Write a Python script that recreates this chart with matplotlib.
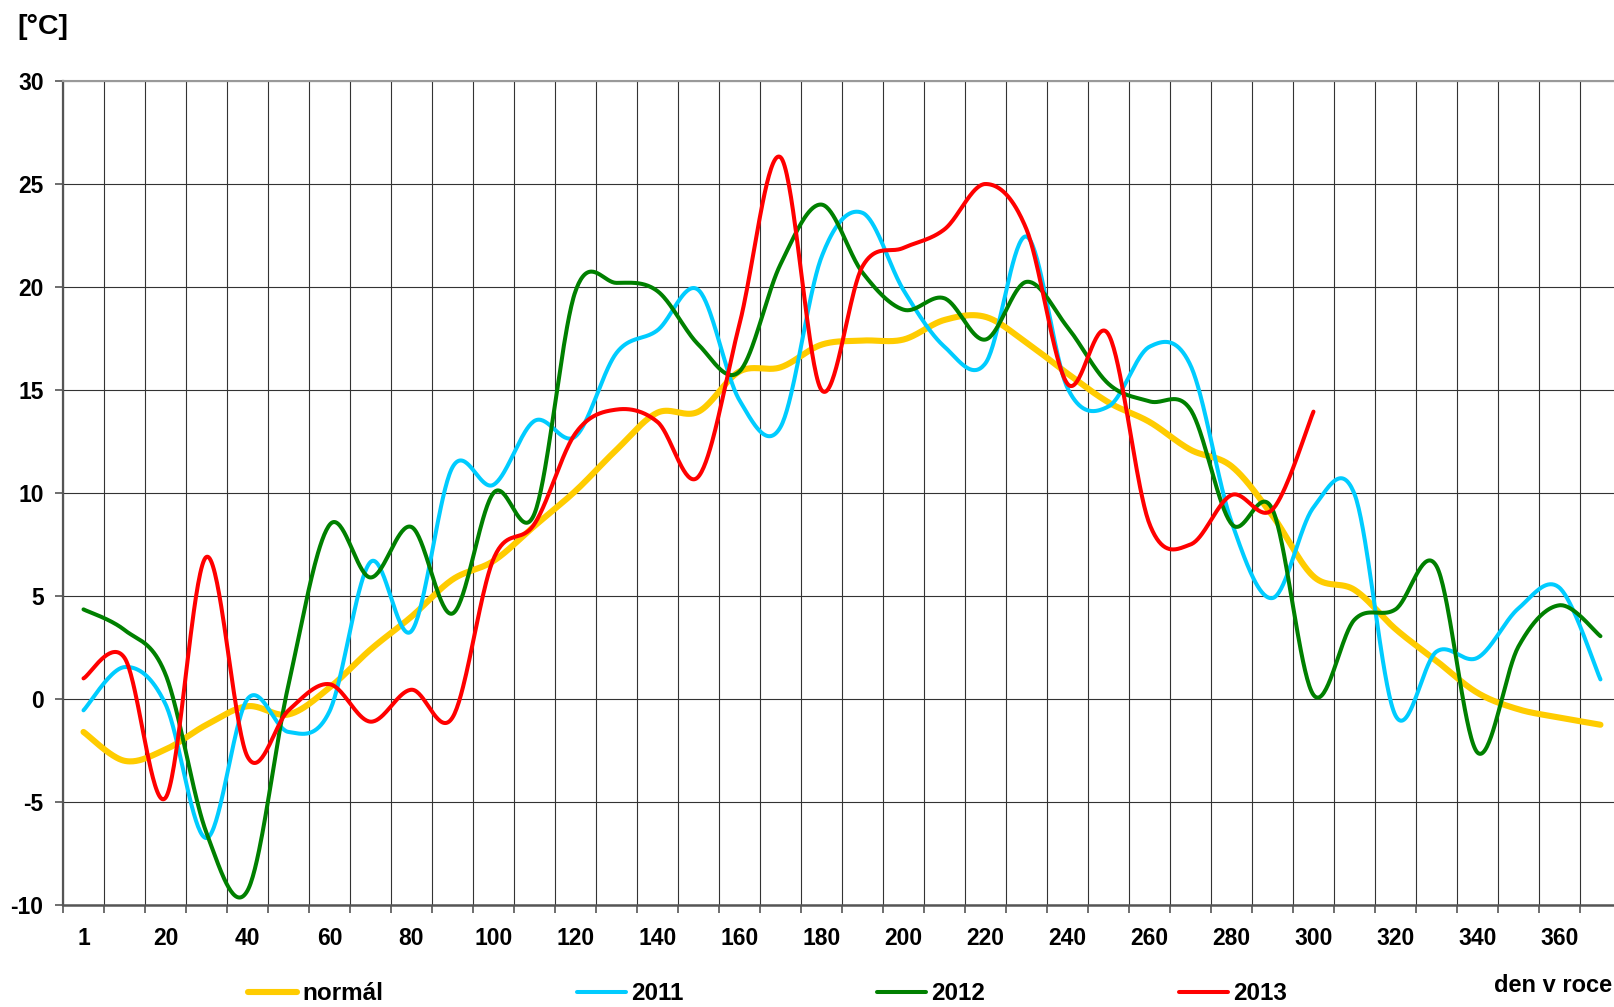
import numpy as np
import matplotlib
matplotlib.use("Agg")
import matplotlib.pyplot as plt

plt.rcParams['font.family'] = ['Liberation Sans', 'DejaVu Sans']
plt.rcParams['font.weight'] = 'bold'
plt.rcParams['axes.unicode_minus'] = False

# ---- data (one value per 10-day step, first label "1") ----
steps = np.arange(0, 380, 10)          # category positions
tick_pos = np.arange(0, 361, 20)
tick_labels = ['1'] + [str(v) for v in range(20, 361, 20)]
y_ticks = [-10, -5, 0, 5, 10, 15, 20, 25, 30]

normal = [-1.6, -3.0, -2.45, -1.25, -0.35, -0.75, 0.55, 2.4, 4.0, 5.8,
          6.7, 8.4, 10.1, 12.1, 13.9, 13.95, 15.9, 16.1, 17.2, 17.4,
          17.45, 18.4, 18.55, 17.3, 15.8, 14.4, 13.45, 12.1, 11.3, 8.9,
          5.95, 5.3, 3.4, 1.85, 0.3, -0.5, -0.9, -1.25]
y2011 = [-0.55, 1.55, -0.25, -6.75, 0.0, -1.6, -0.6, 6.65, 3.3, 11.25,
         10.4, 13.5, 12.75, 16.8, 17.9, 19.85, 14.5, 13.2, 21.45, 23.6,
         19.85, 17.1, 16.3, 22.45, 15.1, 14.2, 17.1, 16.2, 8.6, 4.9,
         9.3, 9.95, -0.8, 2.3, 2.0, 4.4, 5.4, 0.95]
y2012 = [4.35, 3.35, 1.2, -6.5, -9.3, 0.7, 8.45, 5.9, 8.35, 4.15,
         10.0, 9.0, 19.8, 20.2, 19.8, 17.2, 15.9, 21.1, 24.0, 20.7,
         18.9, 19.45, 17.45, 20.25, 18.05, 15.3, 14.45, 14.05, 8.5, 9.2,
         0.2, 3.85, 4.35, 6.45, -2.6, 2.55, 4.55, 3.05]
y2013 = [1.0, 2.0, -4.8, 6.9, -2.8, -0.55, 0.72, -1.1, 0.45, -0.9,
         6.8, 8.5, 12.9, 14.05, 13.45, 10.8, 18.2, 26.3, 15.0, 21.0,
         21.9, 22.8, 25.0, 22.8, 15.3, 17.7, 8.5, 7.5, 9.9, 9.2,
         13.95]


def smooth(x, y, n=40):
    """Excel-like smoothed line (Catmull-Rom Bezier)."""
    p = np.column_stack([x, y]).astype(float)
    pp = np.vstack([p[0], p, p[-1]])
    t = np.linspace(0, 1, n)[:, None]
    out = []
    for i in range(len(p) - 1):
        P0, P1, P2, P3 = pp[i], pp[i + 1], pp[i + 2], pp[i + 3]
        C1 = P1 + (P2 - P0) / 6.0
        C2 = P2 - (P3 - P1) / 6.0
        seg = ((1 - t) ** 3) * P1 + 3 * ((1 - t) ** 2) * t * C1 + \
            3 * (1 - t) * t ** 2 * C2 + t ** 3 * P2
        out.append(seg if i == 0 else seg[1:])
    s = np.vstack(out)
    return s[:, 0], s[:, 1]


fig = plt.figure(figsize=(16.14, 10.07), dpi=100)
ax = fig.add_axes([63 / 1614, 1 - 905 / 1007, 1 - 63 / 1614, (905 - 81) / 1007])

series = [
    (normal, '#FFCC00', 4.4, 'normál'),
    (y2011, '#00CCFF', 2.9, '2011'),
    (y2012, '#008000', 2.9, '2012'),
    (y2013, '#FF0000', 2.9, '2013'),
]
handles = []
for vals, col, lw, lab in series:
    xs, ys = smooth(steps[:len(vals)], vals)
    h, = ax.plot(xs, ys, color=col, lw=lw, label=lab,
                 solid_capstyle='round', solid_joinstyle='round')
    handles.append(h)

ax.set_xlim(-5, 373.3)
ax.set_ylim(-10, 30)

# grid
ax.set_xticks(np.arange(-5, 370, 10))
ax.set_xticklabels([])
ax.set_xticks(tick_pos, minor=True)
ax.set_xticklabels(tick_labels, minor=True)
ax.tick_params(axis='x', which='major', length=6, width=1.2, color='#555555', direction='out')
ax.tick_params(axis='x', which='minor', length=0, pad=16, labelsize=16.5)
ax.set_yticks(y_ticks)
ax.set_yticklabels([str(v) for v in y_ticks])
ax.tick_params(axis='y', length=6, width=1.2, color='#555555', pad=8, labelsize=16.5)

ax.grid(True, which='major', axis='both', color='#333333', lw=0.8)
ax.set_axisbelow(True)

ax.spines['right'].set_visible(False)
ax.spines['top'].set_color('#999999')
ax.spines['top'].set_linewidth(1.5)
ax.spines['left'].set_color('#555555')
ax.spines['left'].set_linewidth(1.6)
ax.spines['bottom'].set_color('#555555')
ax.spines['bottom'].set_linewidth(1.8)

fig.text(17 / 1614, 1 - 27 / 1007, '[°C]', fontsize=20.5, fontweight='bold',
         ha='left', va='center')
fig.text(1494 / 1614, 1 - 992 / 1007, 'den v roce', fontsize=17, fontweight='bold',
         ha='left', va='baseline')

fig.legend(handles=handles, loc='center left', bbox_to_anchor=(248 / 1614, 1 - 994 / 1007),
           ncol=4, frameon=False, handlelength=2.0, handletextpad=0.22,
           columnspacing=7.98, borderpad=0, borderaxespad=0,
           prop={'weight': 'bold', 'size': 17.5})

fig.savefig('out.png', dpi=100)
